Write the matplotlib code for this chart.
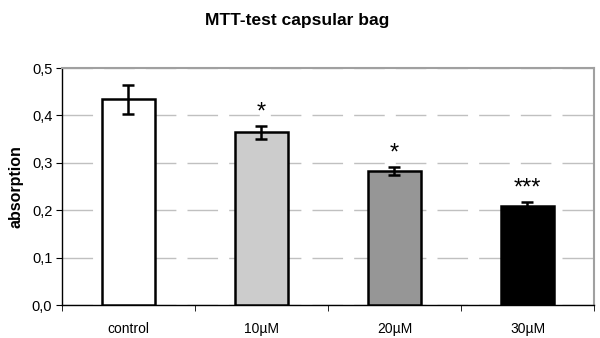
import numpy as np
import matplotlib.pyplot as plt

plt.rcParams['font.family'] = ['Liberation Sans', 'DejaVu Sans']

# data
groups = ['control', '10µM', '20µM', '30µM']
absorption = [0.434, 0.364, 0.283, 0.209]
errors = [0.030, 0.013, 0.008, 0.008]
stars = ['', '*', '*', '***']
bar_colors = ['white', '#cccccc', '#969696', 'black']
yticks = [0.0, 0.1, 0.2, 0.3, 0.4, 0.5]

fig = plt.figure(figsize=(6, 3.38), dpi=100)
ax = fig.add_axes([0.1033, 0.0976, 0.8867, 0.7012])

x = np.arange(len(groups))
ax.bar(x, absorption, width=0.4, color=bar_colors, edgecolor='black',
       linewidth=1.8, zorder=3)
ax.errorbar(x, absorption, yerr=errors, fmt='none',
            ecolor='black', elinewidth=1.8, capsize=4, capthick=1.8, zorder=4)

for xi, v, e, s in zip(x, absorption, errors, stars):
    if s:
        ax.text(xi, v + e + 0.006, s, ha='center', va='bottom', fontsize=17)

ax.set_xlim(-0.5, 3.5)
ax.set_ylim(0, 0.5)
ax.set_yticks(yticks)
ax.set_yticklabels([('%.1f' % t).replace('.', ',') for t in yticks], fontsize=10.5)
ax.set_xticks(x)
ax.set_xticklabels(groups, fontsize=10)
ax.tick_params(axis='x', length=0, pad=12)
ax.set_xticks(np.arange(-0.5, 4, 1), minor=True)
ax.tick_params(axis='x', which='minor', length=4, direction='out')
ax.tick_params(axis='y', length=4, direction='out', pad=3)

ax.yaxis.grid(True, color='#c0c0c0', linewidth=1, linestyle=(0, (22, 8)), zorder=0)

for side in ['top', 'right']:
    ax.spines[side].set_color('#a0a0a0')
    ax.spines[side].set_linewidth(1.5)
ax.spines['left'].set_linewidth(1)
ax.spines['bottom'].set_linewidth(1)

ax.set_ylabel('absorption', fontsize=11.5, fontweight='bold', labelpad=6)
fig.text(0.495, 0.94, 'MTT-test capsular bag', ha='center', va='center',
         fontsize=12.5, fontweight='bold')

fig.savefig('out.png', dpi=100)
